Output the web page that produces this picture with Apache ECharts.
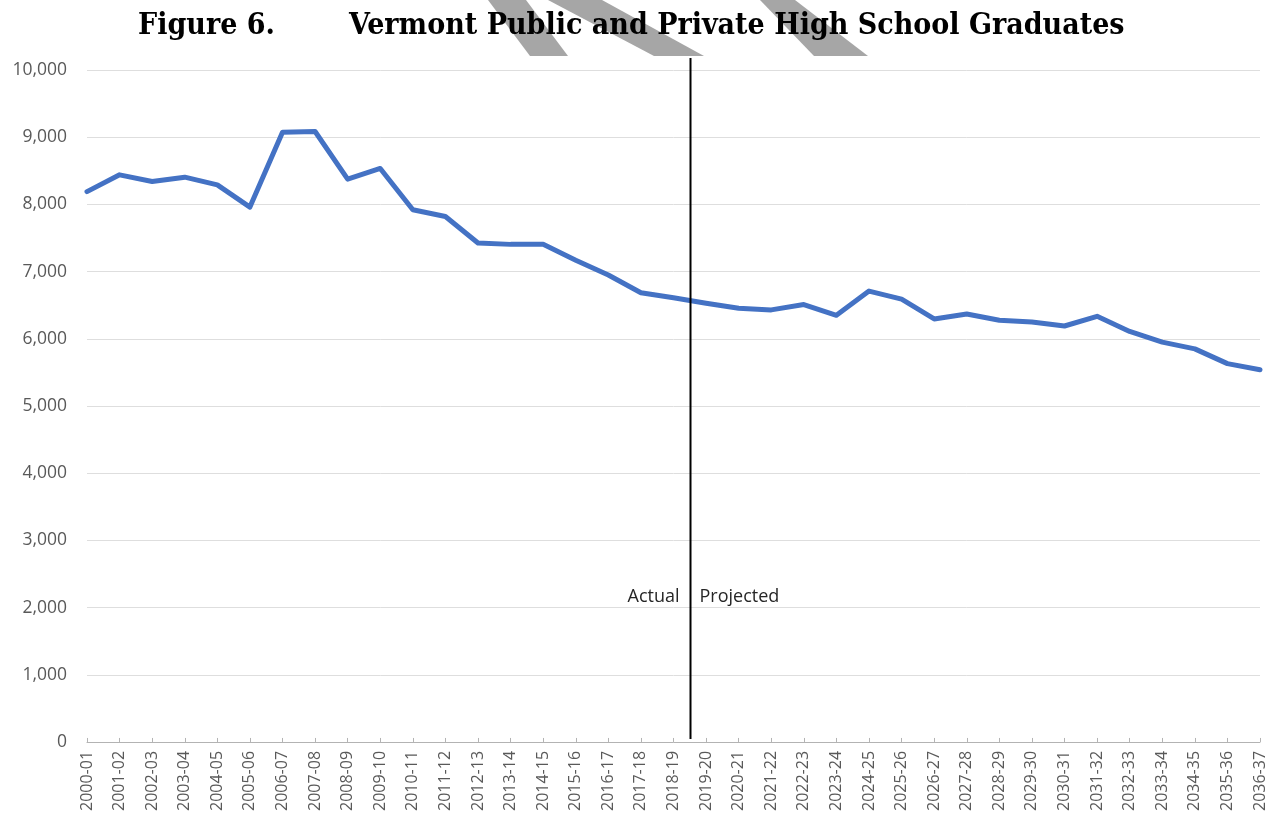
<!DOCTYPE html>
<html>
<head>
<meta charset="utf-8">
<style>
  html, body { margin: 0; padding: 0; background: #ffffff; }
  #chart { width: 1273px; height: 814px; }
</style>
<script src="https://cdn.jsdelivr.net/npm/echarts@6/dist/echarts.min.js"></script>
</head>
<body>
<div id="chart"></div>
<script>
const figureLabel = 'Figure 6.';
const titleText = 'Vermont Public and Private High School Graduates';
const categories = [
  '2000-01','2001-02','2002-03','2003-04','2004-05','2005-06','2006-07','2007-08',
  '2008-09','2009-10','2010-11','2011-12','2012-13','2013-14','2014-15','2015-16',
  '2016-17','2017-18','2018-19','2019-20','2020-21','2021-22','2022-23','2023-24',
  '2024-25','2025-26','2026-27','2027-28','2028-29','2029-30','2030-31','2031-32',
  '2032-33','2033-34','2034-35','2035-36','2036-37'
];
const graduates = [
  8190, 8440, 8340, 8405, 8290, 7960, 9075, 9085,
  8375, 8535, 7920, 7820, 7425, 7405, 7405, 7170,
  6950, 6685, 6610, 6530, 6455, 6430, 6510, 6350,
  6710, 6590, 6295, 6370, 6275, 6250, 6190, 6335,
  6110, 5950, 5850, 5630, 5540
];
const lastActualIndex = 18;   // 2018-19
const firstProjectedIndex = 19; // 2019-20
const actualLabel = 'Actual';
const projectedLabel = 'Projected';

const chart = echarts.init(document.getElementById('chart'), null, { renderer: 'canvas' });

const stripeColor = '#a6a6a6';
const stripes = [
  [[488, 0], [526, 0], [568, 56], [530, 56]],
  [[548, 0], [602, 0], [704, 56], [654, 56]],
  [[760, 0], [795, 0], [868, 56], [814, 56]]
];

const option = {
  backgroundColor: '#ffffff',
  animation: false,
  grid: { left: 87, right: 13, top: 70, bottom: 71, containLabel: false },
  xAxis: {
    type: 'category',
    data: categories,
    boundaryGap: false,
    axisLine: { show: true, lineStyle: { color: '#b3b3b3', width: 1 } },
    axisTick: { show: true, inside: true, length: 4, alignWithLabel: true, lineStyle: { color: '#b3b3b3' } },
    axisLabel: {
      rotate: 90, interval: 0, margin: 9,
      color: '#595959', fontSize: 16, fontFamily: 'Open Sans'
    },
    splitLine: { show: false }
  },
  yAxis: {
    type: 'value',
    min: 0, max: 10000, interval: 1000,
    axisLine: { show: false },
    axisTick: { show: false },
    axisLabel: {
      margin: 20,
      color: '#595959', fontSize: 17.5, fontFamily: 'Open Sans',
      formatter: v => v.toLocaleString('en-US')
    },
    splitLine: { show: true, lineStyle: { color: '#dedede', width: 1 } }
  },
  series: [{
    type: 'line',
    data: graduates,
    symbol: 'none',
    smooth: false,
    lineStyle: { color: '#4472c4', width: 5, join: 'round', cap: 'round' },
    z: 3
  }]
};
chart.setOption(option);

const xA = chart.convertToPixel({ xAxisIndex: 0 }, lastActualIndex);
const xB = chart.convertToPixel({ xAxisIndex: 0 }, firstProjectedIndex);
const divX = Math.round((xA + xB) / 2) + 0.5;
const yZero = chart.convertToPixel({ yAxisIndex: 0 }, 0);
const yLabel = chart.convertToPixel({ yAxisIndex: 0 }, 2200);

const graphics = stripes.map(pts => ({
  type: 'polygon', z: 1, silent: true,
  shape: { points: pts },
  style: { fill: stripeColor }
}));
graphics.push(
  {
    type: 'text', z: 10, left: 138, top: 11,
    style: { text: figureLabel, font: 'bold 30px "DejaVu Serif Condensed", "DejaVu Serif", serif', fill: '#000' }
  },
  {
    type: 'text', z: 10, left: 349, top: 11,
    style: { text: titleText, font: 'bold 30px "DejaVu Serif Condensed", "DejaVu Serif", serif', fill: '#000' }
  },
  {
    type: 'line', z: 10, silent: true,
    shape: { x1: divX, y1: 58, x2: divX, y2: yZero - 3 },
    style: { stroke: '#000', lineWidth: 2 }
  },
  {
    type: 'text', z: 10, x: divX - 11, y: yLabel + 3,
    style: { text: actualLabel, font: '18px "Open Sans"', fill: '#262626', align: 'right', verticalAlign: 'middle' }
  },
  {
    type: 'text', z: 10, x: divX + 9, y: yLabel + 3,
    style: { text: projectedLabel, font: '18px "Open Sans"', fill: '#262626', align: 'left', verticalAlign: 'middle' }
  }
);
chart.setOption({ graphic: graphics });
</script>
</body>
</html>
